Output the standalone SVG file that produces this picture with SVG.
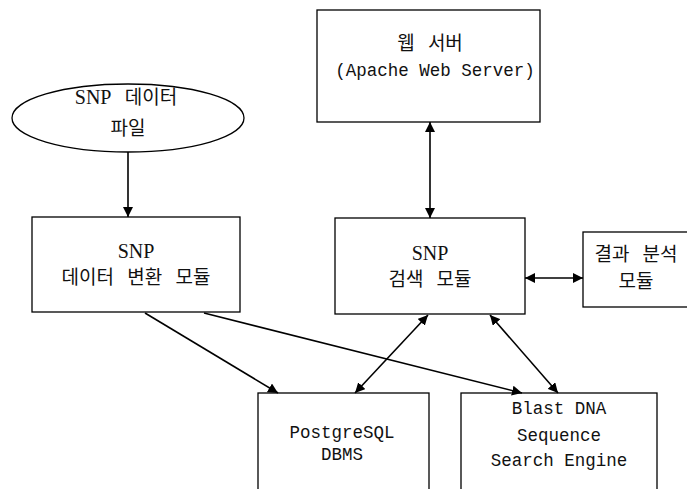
<svg xmlns="http://www.w3.org/2000/svg" width="687" height="489" viewBox="0 0 687 489">
<defs>
<marker id="ah" viewBox="0 0 10 10" refX="10" refY="5" markerWidth="10" markerHeight="10" markerUnits="userSpaceOnUse" orient="auto-start-reverse">
<path d="M0,0 L10,5 L0,10 z" fill="#000"/>
</marker>
<style>
.box{fill:#fff;stroke:#000;stroke-width:1.3}
.kr{font-family:"Noto Sans CJK KR",sans-serif;font-size:19px;word-spacing:9px;fill:#111;text-anchor:middle}
.sr{font-family:"Liberation Serif","Noto Sans CJK KR",serif;font-size:20px;fill:#111;text-anchor:middle}
.mn{font-family:"Liberation Mono","Noto Sans CJK KR",monospace;font-size:17.5px;fill:#111;text-anchor:middle}
.c{stroke:#000;stroke-width:1.6;fill:none}
</style>
</defs>
<rect width="687" height="489" fill="#fff"/>
<g id="snp-file">
<ellipse class="box" cx="128" cy="118" rx="116" ry="34"/>
<text class="sr" x="126" y="104" word-spacing="9"><tspan>SNP</tspan><tspan font-family="Noto Sans CJK KR" font-size="19"> 데이터</tspan></text>
<text class="kr" x="128" y="135">파일</text>
</g>
<g id="web-server">
<rect class="box" x="317" y="10" width="223" height="112"/>
<text class="kr" x="430" y="50">웹 서버</text>
<text class="mn" x="435" y="76">(Apache Web Server)</text>
</g>
<g id="convert-module">
<rect class="box" x="32" y="217" width="208" height="95"/>
<text class="sr" x="136" y="258">SNP</text>
<text class="kr" x="136" y="284">데이터 변환 모듈</text>
</g>
<g id="search-module">
<rect class="box" x="335" y="218" width="190" height="96"/>
<text class="sr" x="430" y="260">SNP</text>
<text class="kr" x="430" y="286">검색 모듈</text>
</g>
<g id="analysis-module">
<rect class="box" x="583" y="232" width="110" height="75"/>
<text class="kr" x="636" y="261">결과 분석</text>
<text class="kr" x="636" y="288">모듈</text>
</g>
<g id="postgres">
<rect class="box" x="258" y="393" width="171" height="110"/>
<text class="mn" x="342" y="438">PostgreSQL</text>
<text class="mn" x="342" y="460">DBMS</text>
</g>
<g id="blast">
<rect class="box" x="461" y="393" width="196" height="110"/>
<text class="mn" x="559" y="414">Blast DNA</text>
<text class="mn" x="559" y="441">Sequence</text>
<text class="mn" x="559" y="466">Search Engine</text>
</g>
<g id="connectors">
<line class="c" x1="128" y1="152" x2="128" y2="217" marker-end="url(#ah)"/>
<line class="c" x1="430" y1="122" x2="430" y2="218" marker-start="url(#ah)" marker-end="url(#ah)"/>
<line class="c" x1="525" y1="278" x2="583" y2="278" marker-start="url(#ah)" marker-end="url(#ah)"/>
<line class="c" x1="145" y1="313" x2="278" y2="393" marker-end="url(#ah)"/>
<line class="c" x1="204" y1="313" x2="522" y2="393" marker-end="url(#ah)"/>
<line class="c" x1="428" y1="315" x2="355" y2="393" marker-start="url(#ah)" marker-end="url(#ah)"/>
<line class="c" x1="490" y1="315" x2="558" y2="393" marker-start="url(#ah)" marker-end="url(#ah)"/>
</g>
</svg>
